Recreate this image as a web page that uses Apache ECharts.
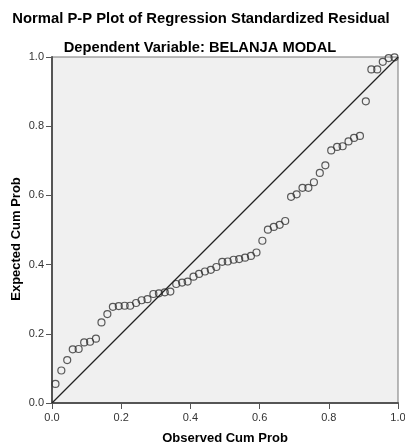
<!DOCTYPE html>
<html>
<head>
<meta charset="utf-8">
<script src="https://cdn.jsdelivr.net/npm/echarts@6/dist/echarts.min.js"></script>
<style>
  html, body { margin: 0; padding: 0; background: #fff; }
  #chart { width: 405px; height: 444px; }
</style>
</head>
<body>
<div id="chart"></div>
<script>
// observed cumulative probability (x) per case
const observedCumProb = [
  0.010, 0.027, 0.044, 0.060, 0.077, 0.093, 0.110, 0.127, 0.143, 0.160,
  0.176, 0.193, 0.210, 0.226, 0.243, 0.259, 0.276, 0.293, 0.309, 0.326,
  0.342, 0.359, 0.376, 0.392, 0.409, 0.425, 0.442, 0.459, 0.475, 0.492,
  0.508, 0.525, 0.541, 0.558, 0.575, 0.591, 0.608, 0.624, 0.641, 0.658,
  0.674, 0.691, 0.707, 0.724, 0.741, 0.757, 0.774, 0.790, 0.807, 0.824,
  0.840, 0.857, 0.873, 0.890, 0.907, 0.923, 0.940, 0.956, 0.973, 0.990
]
// expected cumulative probability (y) per case
const expectedCumProb = [
  0.055, 0.094, 0.124, 0.155, 0.156, 0.175, 0.177, 0.186, 0.233, 0.257,
  0.278, 0.280, 0.281, 0.281, 0.289, 0.297, 0.300, 0.315, 0.317, 0.320,
  0.322, 0.344, 0.348, 0.351, 0.365, 0.373, 0.380, 0.385, 0.393, 0.408,
  0.409, 0.414, 0.416, 0.420, 0.425, 0.435, 0.469, 0.501, 0.509, 0.515,
  0.526, 0.596, 0.603, 0.622, 0.622, 0.638, 0.665, 0.687, 0.730, 0.740,
  0.742, 0.756, 0.766, 0.772, 0.872, 0.964, 0.964, 0.986, 0.997, 0.999
]
const refLine = [[0, 0], [1, 1]]
const tickLabels = ['0.0', '0.2', '0.4', '0.6', '0.8', '1.0']

const points = observedCumProb.map((x, i) => [x, expectedCumProb[i]])

const chart = echarts.init(document.getElementById('chart'))

const axisCommon = {
  type: 'value',
  min: 0,
  max: 1,
  interval: 0.2,
  nameLocation: 'middle',
  nameMoveOverlap: false,
  nameTextStyle: { fontFamily: 'Liberation Sans', fontWeight: 'bold', fontSize: 13, color: '#000' },
  axisLine: { show: true, lineStyle: { color: '#555', width: 2 } },
  axisTick: { show: true, inside: false, length: 6, lineStyle: { color: '#555', width: 1 } },
  axisLabel: {
    fontFamily: 'Liberation Sans',
    fontSize: 11,
    color: '#333',
    margin: 8,
    formatter: v => tickLabels[Math.round(v * 5)]
  },
  splitLine: { show: false }
}

chart.setOption({
  animation: false,
  title: [
    {
      text: 'Normal P-P Plot of Regression Standardized Residual',
      left: 196,
      textAlign: 'center',
      top: 6,
      textStyle: { fontFamily: 'Liberation Sans', fontWeight: 'bold', fontSize: 14.8, color: '#000' }
    },
    {
      text: 'Dependent Variable: BELANJA MODAL',
      left: 195,
      textAlign: 'center',
      top: 35,
      textStyle: { fontFamily: 'Liberation Sans', fontWeight: 'bold', fontSize: 14.7, color: '#000' }
    }
  ],
  grid: {
    left: 52,
    right: 7,
    top: 57,
    bottom: 41,
    outerBoundsMode: 'none',
    containLabel: false,
    show: true,
    backgroundColor: '#f0f0f0',
    borderColor: '#777',
    borderWidth: 1
  },
  xAxis: Object.assign({}, axisCommon, {
    name: 'Observed Cum Prob',
    nameGap: 29,
    axisLabel: Object.assign({}, axisCommon.axisLabel, { margin: 9 })
  }),
  yAxis: Object.assign({}, axisCommon, {
    name: 'Expected Cum Prob',
    nameGap: 29,
    nameTextStyle: Object.assign({}, axisCommon.nameTextStyle, { padding: [0, 18, 0, 0] })
  }),
  series: [
    {
      type: 'line',
      data: refLine,
      symbol: 'none',
      lineStyle: { color: '#222', width: 1.2 },
      silent: true
    },
    {
      type: 'scatter',
      data: points,
      symbol: 'circle',
      symbolSize: 7,
      clip: false,
      itemStyle: { color: 'rgba(0,0,0,0)', borderColor: '#333', borderWidth: 1.2 }
    }
  ]
})
</script>
</body>
</html>
